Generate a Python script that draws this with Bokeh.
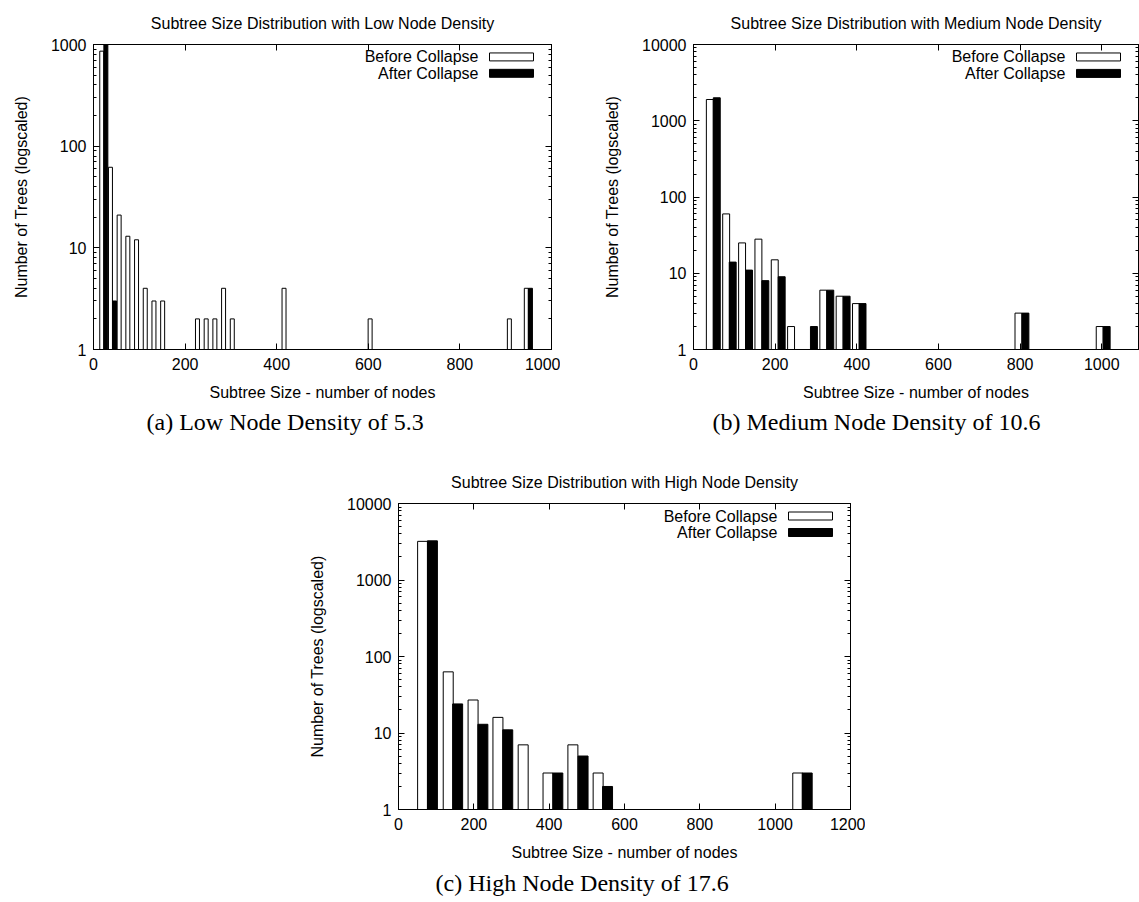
import math
from bokeh.plotting import figure
from bokeh.models import (Range1d, LinearAxis, LogAxis, Title, FixedTicker,
                          PrintfTickFormatter, Spacer)
from bokeh.layouts import row, column
from bokeh.embed import file_html
from bokeh.resources import INLINE
from bokeh.core.properties import value

# ---------------- data ----------------
# (a) Low node density
a_before_x = [18, 37, 56, 75, 94, 113, 132, 151, 227, 246, 265, 284, 303, 416, 604, 908, 945]
a_before_y = [860, 62, 21, 13, 12, 4, 3, 3, 2, 2, 2, 4, 2, 4, 2, 2, 4]
a_after_x = [27, 46, 954]
a_after_y = [1000, 3, 4]

# (b) Medium node density
b_before_x = [40, 80, 119, 159, 199, 239, 318, 358, 398, 796, 995]
b_before_y = [1900, 60, 25, 28, 15, 2, 6, 5, 4, 3, 2]
b_after_x = [57, 96, 136, 176, 216, 295, 335, 375, 414, 813, 1012]
b_after_y = [2000, 14, 11, 8, 9, 2, 6, 5, 4, 3, 2]

# (c) High node density
c_before_x = [64, 132, 198, 264, 331, 397, 463, 530, 1060]
c_before_y = [3200, 63, 27, 16, 7, 3, 7, 3, 3]
c_after_x = [90, 157, 224, 290, 423, 490, 555, 1085]
c_after_y = [3250, 24, 13, 11, 3, 5, 2, 3]

a_xticks = [0, 200, 400, 600, 800, 1000]
b_xticks = [0, 200, 400, 600, 800, 1000]
c_xticks = [0, 200, 400, 600, 800, 1000, 1200]
a_yticks = [1, 10, 100, 1000]
bc_yticks = [1, 10, 100, 1000, 10000]

titles = ["Subtree Size Distribution with Low Node Density",
          "Subtree Size Distribution with Medium Node Density",
          "Subtree Size Distribution with High Node Density"]
captions = ["(a)  Low Node Density of 5.3",
            "(b)  Medium Node Density of 10.6",
            "(c)  High Node Density of 17.6"]
legend_labels = ["Before Collapse", "After Collapse"]
x_label = "Subtree Size - number of nodes"
y_label = "Number of Trees (logscaled)"

FONT = "Liberation Sans"
SERIF = "Liberation Serif"
FS = "16px"


def minor_list(yticks):
    out = []
    for d in yticks[:-1]:
        for m in range(2, 10):
            out.append(d * m)
    return out


def make_panel(title, caption, bx, by, ax, ay, width_data, xr, yr, xticks, yticks,
               W, H, bl, br, bt, bb, cap_offset, title_standoff, cap_standoff):
    p = figure(width=W, height=H, x_range=Range1d(*xr), y_range=Range1d(*yr),
               y_axis_type="log", output_backend="svg", toolbar_location=None,
               min_border_left=bl, min_border_right=br, min_border_top=bt,
               min_border_bottom=bb, title=title)
    p.title.align = "center"
    p.title.text_font = FONT
    p.title.text_font_size = FS
    p.title.text_font_style = "normal"
    p.title.text_color = "black"
    p.title.standoff = title_standoff
    p.xgrid.visible = False
    p.ygrid.visible = False
    p.outline_line_color = "black"
    p.outline_line_width = 1
    p.background_fill_color = "white"
    p.border_fill_color = "white"

    xt = FixedTicker(ticks=xticks, minor_ticks=[])
    yt = FixedTicker(ticks=yticks, minor_ticks=minor_list(yticks))
    for axis in p.xaxis:
        axis.ticker = xt
    for axis in p.yaxis:
        axis.ticker = yt
        axis.formatter = PrintfTickFormatter(format="%d")

    for axis in p.axis:
        axis.major_tick_in = 6
        axis.major_tick_out = 0
        axis.minor_tick_in = 3
        axis.minor_tick_out = 0
        axis.major_label_text_font = FONT
        axis.major_label_text_font_size = FS
        axis.major_label_text_color = "black"
        axis.axis_label_text_font = FONT
        axis.axis_label_text_font_size = FS
        axis.axis_label_text_font_style = "normal"
        axis.axis_label_text_color = "black"
        axis.axis_line_color = "black"
        axis.major_tick_line_color = "black"
        axis.minor_tick_line_color = "black"
    p.xaxis.axis_label = x_label
    p.yaxis.axis_label = y_label
    p.xaxis.major_label_standoff = 8
    p.xaxis.axis_label_standoff = 11
    p.yaxis.major_label_standoff = 7
    p.yaxis.axis_label_standoff = 18

    # mirrored tick marks on the top and right edges (gnuplot style)
    top_ax = LinearAxis(ticker=xt, major_tick_in=6, major_tick_out=0,
                        major_label_text_color=None, major_label_standoff=0,
                        major_label_text_font_size="2px",
                        minor_tick_line_color=None, axis_line_color="black")
    right_ax = LogAxis(ticker=yt, major_tick_in=6, major_tick_out=0,
                       minor_tick_in=3, minor_tick_out=0,
                       major_label_text_color=None, major_label_standoff=0,
                       major_label_text_font_size="2px",
                       axis_line_color="black")
    p.add_layout(top_ax, "above")
    p.add_layout(right_ax, "right")

    # bars
    p.vbar(x=bx, top=by, bottom=1, width=width_data, fill_color="white",
           line_color="black", line_width=1)
    p.vbar(x=ax, top=ay, bottom=1, width=width_data, fill_color="black",
           line_color="black", line_width=1)

    # gnuplot-style key (text then sample box), placed by pixel offsets in the frame
    fw = W - bl - br
    fh = H - bt - bb
    x0, x1 = xr
    ly0, ly1 = math.log10(yr[0]), math.log10(yr[1])

    def X(px_from_right):
        return x1 - px_from_right * (x1 - x0) / fw

    def Y(px_from_top):
        return 10 ** (ly1 - px_from_top * (ly1 - ly0) / fh)

    rows = [12.5, 29.0]
    fills = ["white", "black"]
    for lab, ry, fc in zip(legend_labels, rows, fills):
        p.quad(left=[X(18 + 44)], right=[X(18)], top=[Y(ry - 4)], bottom=[Y(ry + 4)],
               fill_color=fc, line_color="black", line_width=1)
        p.text(x=[X(18 + 44 + 11)], y=[Y(ry)], text=[lab], text_align="right",
               text_baseline="middle", text_font=value(FONT), text_font_size=FS,
               text_color="black")

    cap = Title(text=caption, align="left", offset=cap_offset,
                text_font=SERIF, text_font_size="24px", text_font_style="normal",
                text_color="black", standoff=cap_standoff)
    p.add_layout(cap, "below")
    return p


pa = make_panel(titles[0], captions[0], a_before_x, a_before_y, a_after_x, a_after_y,
                8.7, (0, 1000), (1, 1000), a_xticks, a_yticks,
                560, 440, 93, 9, 42, 91, 53, 25, 6)
pb = make_panel(titles[1], captions[1], b_before_x, b_before_y, b_after_x, b_after_y,
                17, (0, 1090), (1, 10000), b_xticks, bc_yticks,
                579, 440, 133, 1, 43, 91, 19, 25, 6)
pc = make_panel(titles[2], captions[2], c_before_x, c_before_y, c_after_x, c_after_y,
                26.5, (0, 1200), (1, 10000), c_xticks, bc_yticks,
                560, 462, 93, 15, 63, 93, 37, 26, 9)

layout = column(row(pa, pb, spacing=0),
                row(Spacer(width=305, height=462), pc, spacing=0),
                spacing=0)

open("out.html", "w").write(file_html(layout, INLINE))
